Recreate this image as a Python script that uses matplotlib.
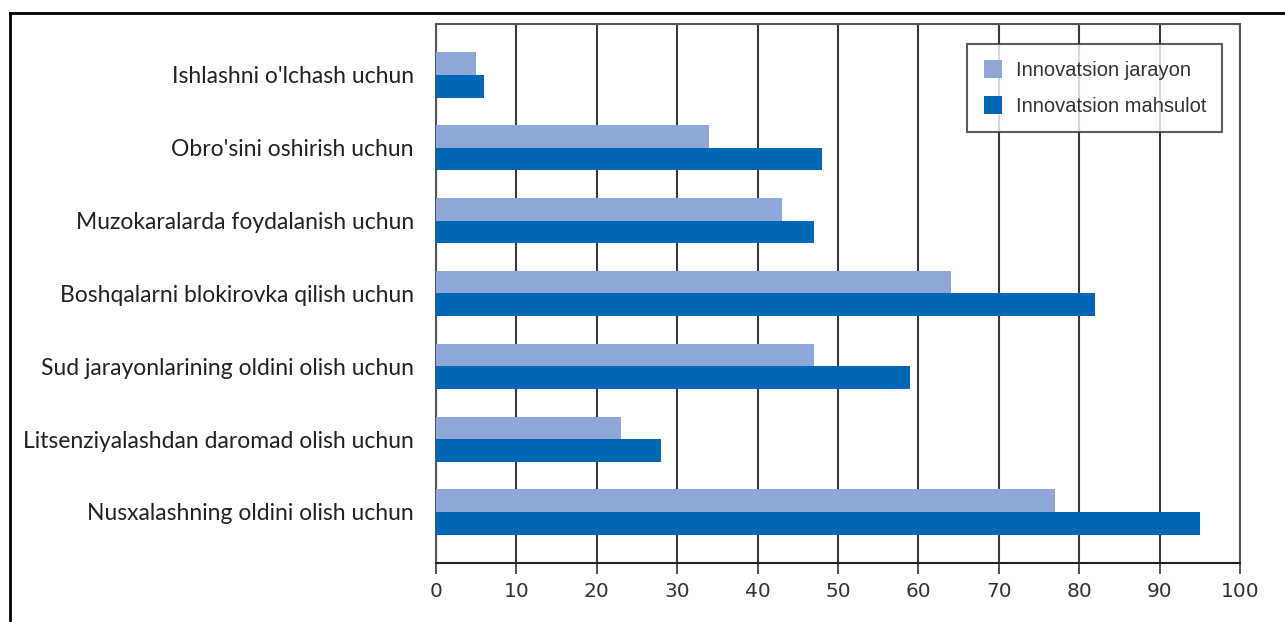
import numpy as np
import matplotlib.pyplot as plt
from matplotlib.lines import Line2D

# Chart data
categories = ["Ishlashni o'lchash uchun", "Obro'sini oshirish uchun",
              "Muzokaralarda foydalanish uchun", "Boshqalarni blokirovka qilish uchun",
              "Sud jarayonlarining oldini olish uchun", "Litsenziyalashdan daromad olish uchun",
              "Nusxalashning oldini olish uchun"]
jarayon = [5, 34, 43, 64, 47, 23, 77]
mahsulot = [6, 48, 47, 82, 59, 28, 95]
series_names = ["Innovatsion jarayon", "Innovatsion mahsulot"]
xticks = [0, 10, 20, 30, 40, 50, 60, 70, 80, 90, 100]

light = '#8fa7d6'
dark = '#0067b6'

fig = plt.figure(figsize=(12.85, 6.22), dpi=100)
ax = fig.add_axes([0.3393, 0.0949, 0.6257, 0.8666])

y = np.arange(len(categories))
h = 0.31
ax.barh(y - h / 2, jarayon, height=h, color=light, label=series_names[0], zorder=3)
ax.barh(y + h / 2, mahsulot, height=h, color=dark, label=series_names[1], zorder=3)

ax.set_xlim(0, 100)
ax.set_ylim(len(categories) - 0.3, -0.7)
ax.set_xticks(xticks)
ax.set_xticklabels([str(t) for t in xticks], fontsize=14.5,
                   family=['Liberation Sans Narrow', 'DejaVu Sans'], color='#333333')
ax.set_yticks(y)
ax.set_yticklabels(categories, fontsize=16.5, family=['Lato', 'DejaVu Sans'], color='#222222')
ax.tick_params(axis='y', length=0, pad=16)
ax.tick_params(axis='x', length=8, width=1.2, color='#333333', pad=6)

ax.grid(axis='x', color='#3a3a3a', linewidth=1.5, zorder=0)
for s in ['top', 'right', 'left']:
    ax.spines[s].set_color('#555555')
    ax.spines[s].set_linewidth(1.5)
ax.spines['bottom'].set_color('#222222')
ax.spines['bottom'].set_linewidth(1.5)

leg = ax.legend(loc='upper right', bbox_to_anchor=(0.978, 0.963), borderaxespad=0,
                prop={'family': ['Liberation Sans', 'DejaVu Sans'], 'size': 14.5},
                frameon=True, fancybox=False, handlelength=0.9, handleheight=1.0,
                borderpad=0.8, labelspacing=0.8, handletextpad=0.7)
leg.get_frame().set_edgecolor('#333333')
leg.get_frame().set_linewidth(1.5)
for t in leg.get_texts():
    t.set_color('#333333')

# outer frame lines (top and left)
fig.add_artist(Line2D([10 / 1285, 1], [1 - 13 / 622, 1 - 13 / 622], color='black', linewidth=2))
fig.add_artist(Line2D([10 / 1285, 10 / 1285], [0, 1 - 13 / 622], color='black', linewidth=2))

fig.savefig('out.png', dpi=100)
